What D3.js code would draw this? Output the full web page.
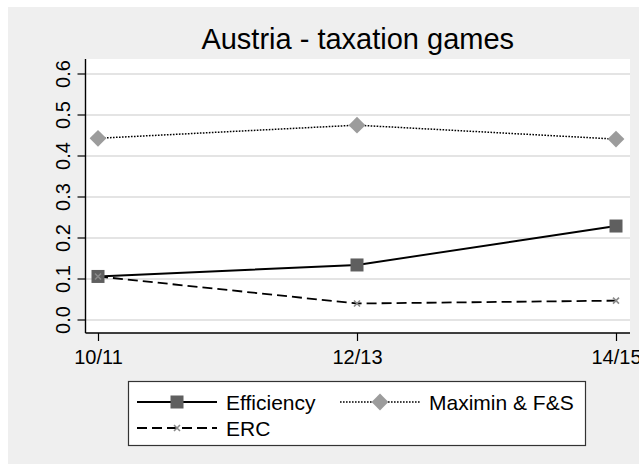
<!DOCTYPE html>
<html>
<head>
<meta charset="utf-8">
<script src="https://cdn.jsdelivr.net/npm/d3@7"></script>
<style>
  html, body { margin: 0; padding: 0; background: #fff; }
  svg { display: block; font-family: "Liberation Sans", Arial, sans-serif; }
</style>
</head>
<body>
<div class="chart"></div>
<script>
// data
const periods = ["10/11", "12/13", "14/15"];
const efficiency = [0.105, 0.133, 0.228];
const maximin = [0.442, 0.474, 0.440];
const erc = [0.105, 0.039, 0.046];
const yTicks = [0, 0.1, 0.2, 0.3, 0.4, 0.5, 0.6];
const seriesNames = ["Efficiency", "Maximin & F&S", "ERC"];

const W = 639, H = 464;
const plot = { left: 85.5, right: 630, top: 59, bottom: 333 };

const svg = d3.select(".chart").append("svg")
  .attr("width", W)
  .attr("height", H);

// graph region
svg.append("rect")
  .attr("x", 8).attr("y", 7)
  .attr("width", W - 8).attr("height", H - 7)
  .attr("fill", "#efefef");

svg.append("rect")
  .attr("x", plot.left).attr("y", plot.top)
  .attr("width", plot.right - plot.left).attr("height", plot.bottom - plot.top)
  .attr("fill", "#fff");

const x = d3.scalePoint().domain(periods).range([98, 616]);
const y = d3.scaleLinear().domain([0, 0.6]).range([319.5, 73.5]);

// grid
svg.append("g")
  .attr("transform", `translate(${plot.left},0)`)
  .call(d3.axisLeft(y).tickValues(yTicks).tickSize(-(plot.right - plot.left)).tickFormat(""))
  .call(g => g.select(".domain").remove())
  .call(g => g.selectAll("line").attr("stroke", "#e4e4e4").attr("stroke-width", 1.8));

// y axis
const yAx = svg.append("g")
  .attr("transform", `translate(${plot.left},0)`)
  .call(d3.axisLeft(y).tickValues(yTicks).tickSize(8).tickPadding(0).tickFormat(d3.format(".1f")));
yAx.select(".domain").remove();
yAx.selectAll(".tick line").attr("stroke", "#000").attr("stroke-width", 1.2);
yAx.selectAll(".tick text")
  .attr("x", null).attr("dy", null)
  .attr("transform", "translate(-16,0) rotate(-90)")
  .attr("text-anchor", "middle")
  .attr("fill", "#000")
  .style("font-size", "20px");
svg.append("line")
  .attr("x1", plot.left).attr("x2", plot.left)
  .attr("y1", plot.top).attr("y2", plot.bottom)
  .attr("stroke", "#000").attr("stroke-width", 1.4);

// x axis
const xAx = svg.append("g")
  .attr("transform", `translate(0,${plot.bottom})`)
  .call(d3.axisBottom(x).tickSize(8).tickPadding(9));
xAx.select(".domain").remove();
xAx.selectAll(".tick line").attr("stroke", "#000").attr("stroke-width", 1.2);
xAx.selectAll(".tick text")
  .attr("fill", "#000")
  .style("font-size", "20px");
svg.append("line")
  .attr("x1", plot.left).attr("x2", plot.right)
  .attr("y1", plot.bottom).attr("y2", plot.bottom)
  .attr("stroke", "#000").attr("stroke-width", 1.4);

// title
svg.append("text")
  .attr("x", (plot.left + plot.right) / 2).attr("y", 49)
  .attr("text-anchor", "middle")
  .style("font-size", "29px")
  .text("Austria - taxation games");

const line = d3.line().x((d, i) => x(periods[i])).y(d => y(d));

const styles = [
  { values: efficiency, dash: null, width: 1.9, marker: "square", fill: "#5f5f5f" },
  { values: maximin, dash: "1.6,1.4", width: 1.5, marker: "diamond", fill: "#9c9c9c" },
  { values: erc, dash: "10,5", width: 1.8, marker: "cross", fill: "#8a8a8a" }
];

function drawMarker(g, type, cx, cy, fill) {
  if (type === "square") {
    g.append("rect").attr("x", cx - 6.5).attr("y", cy - 6.5)
      .attr("width", 13).attr("height", 13).attr("fill", fill);
  } else if (type === "diamond") {
    g.append("path")
      .attr("d", d3.symbol().type(d3.symbolDiamond2).size(180)())
      .attr("transform", `translate(${cx},${cy})`)
      .attr("fill", fill);
  } else {
    g.append("path")
      .attr("d", `M${cx - 3},${cy - 3}L${cx + 3},${cy + 3}M${cx - 3},${cy + 3}L${cx + 3},${cy - 3}`)
      .attr("stroke", fill).attr("stroke-width", 1.6);
  }
}

// lines, drawn back to front
[1, 0, 2].forEach(k => {
  const s = styles[k];
  svg.append("path")
    .attr("d", line(s.values))
    .attr("fill", "none")
    .attr("stroke", "#000")
    .attr("stroke-width", s.width)
    .attr("stroke-dasharray", s.dash);
});
[1, 0, 2].forEach(k => {
  const s = styles[k];
  const g = svg.append("g");
  s.values.forEach((v, i) => drawMarker(g, s.marker, x(periods[i]), y(v), s.fill));
});

// legend
const leg = svg.append("g");
leg.append("rect")
  .attr("x", 128.5).attr("y", 381.5)
  .attr("width", 457).attr("height", 64)
  .attr("fill", "#fff")
  .attr("stroke", "#333").attr("stroke-width", 1.2);

const legPos = [
  { x0: 137, y0: 402 },
  { x0: 340, y0: 402 },
  { x0: 137, y0: 428 }
];
seriesNames.forEach((name, k) => {
  const s = styles[k], p = legPos[k];
  leg.append("line")
    .attr("x1", p.x0).attr("x2", p.x0 + 80)
    .attr("y1", p.y0).attr("y2", p.y0)
    .attr("stroke", "#000")
    .attr("stroke-width", s.width)
    .attr("stroke-dasharray", s.dash);
  drawMarker(leg, s.marker, p.x0 + 40, p.y0, s.fill);
  leg.append("text")
    .attr("x", p.x0 + 89).attr("y", p.y0 + 7.5)
    .style("font-size", "21px")
    .text(name);
});
</script>
</body>
</html>
